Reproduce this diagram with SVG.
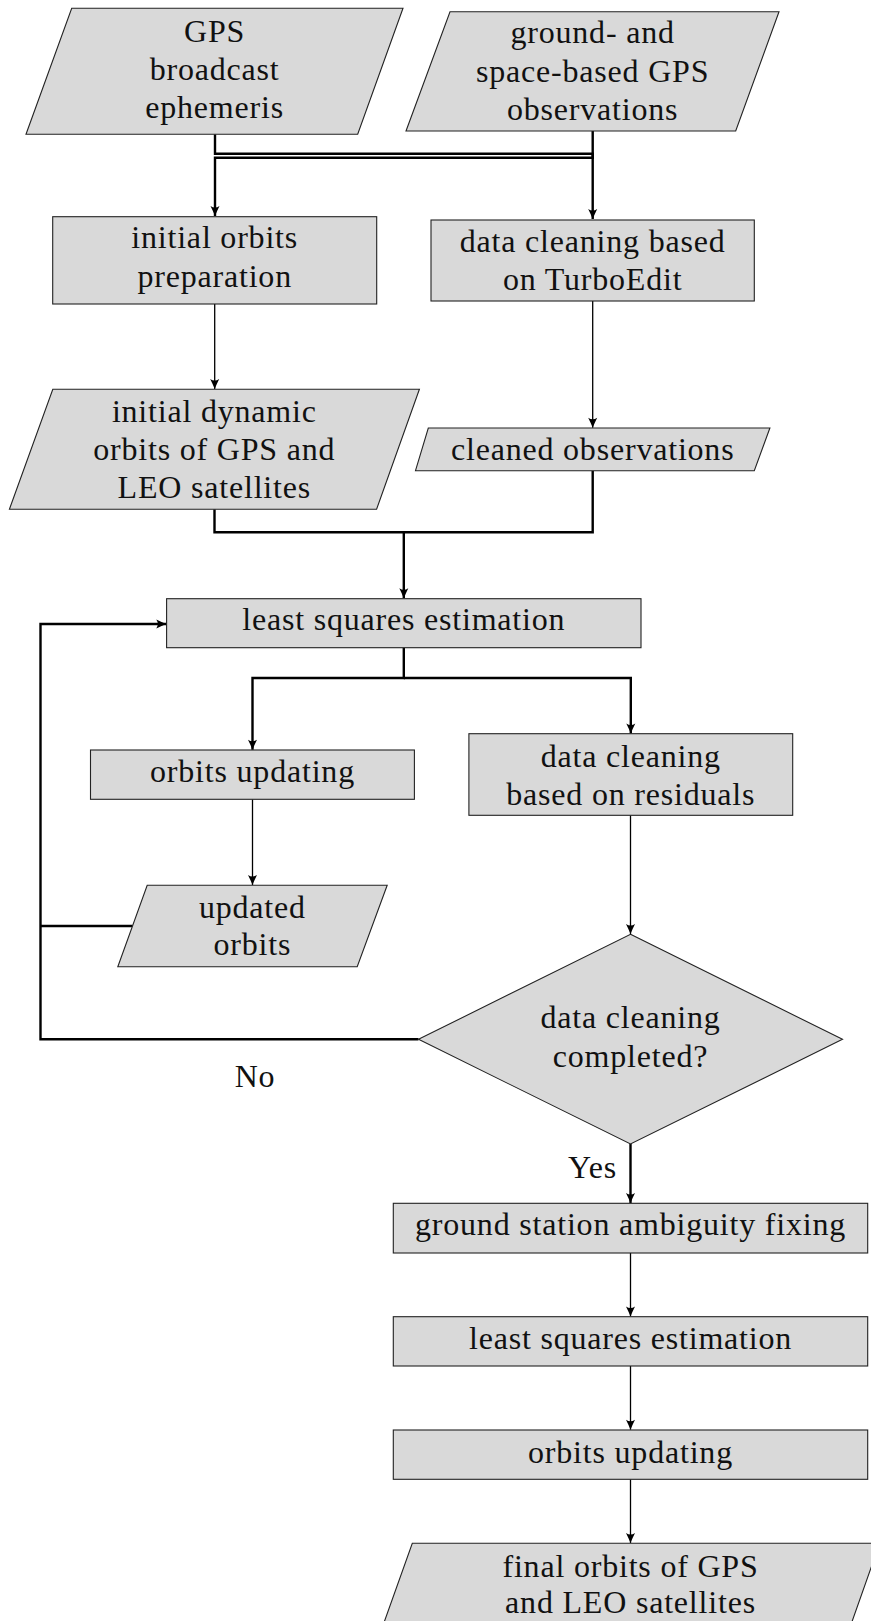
<svg xmlns="http://www.w3.org/2000/svg" width="871" height="1621" viewBox="0 0 871 1621">
<defs>
<marker id="arr" markerUnits="userSpaceOnUse" markerWidth="12" markerHeight="12" viewBox="0 0 12 12" refX="11" refY="6" orient="auto">
<path d="M1,1.5 Q6,4 11,6 Q6,8 1,10.5 Q4,6 1,1.5 Z" fill="#000"/>
</marker>
<style>
.n{fill:#d9d9d9;stroke:#222;stroke-width:1.1}
.t{font-family:"Liberation Serif","Times New Roman",serif;font-size:32px;letter-spacing:0.8px;fill:#111;text-anchor:middle}
.thick{fill:none;stroke:#000;stroke-width:2.4}
.thin{fill:none;stroke:#000;stroke-width:1.3}
</style>
</defs>
<rect width="871" height="1621" fill="#fff"/>
<g id="connectors">
<path class="thick" d="M215,134.3 V153.8 H592.7 V219" marker-end="url(#arr)"/>
<path class="thick" d="M592.7,131 V157.8 H215 V216" marker-end="url(#arr)"/>
<path class="thin" d="M214.7,304 V389" marker-end="url(#arr)"/>
<path class="thin" d="M592.7,301 V427.7" marker-end="url(#arr)"/>
<path class="thick" d="M214.5,509.3 V532.3 H403.8 V598.3" marker-end="url(#arr)"/>
<path class="thick" d="M592.7,470.7 V532.3 H403.8"/>
<path class="thick" d="M403.8,647.7 V678 H252.5 V749.7" marker-end="url(#arr)"/>
<path class="thick" d="M403.8,678 H630.8 V733.4" marker-end="url(#arr)"/>
<path class="thin" d="M252.5,799.3 V885" marker-end="url(#arr)"/>
<path class="thin" d="M630.5,815.3 V934" marker-end="url(#arr)"/>
<path class="thick" d="M418.5,1039.3 H40.5 V624 H166.3" marker-end="url(#arr)"/>
<path class="thick" d="M132.5,926 H40.5"/>
<path class="thick" d="M630.5,1144 V1203" marker-end="url(#arr)"/>
<path class="thin" d="M630.5,1253 V1316.4" marker-end="url(#arr)"/>
<path class="thin" d="M630.5,1366 V1429.7" marker-end="url(#arr)"/>
<path class="thin" d="M630.5,1479.3 V1543" marker-end="url(#arr)"/>
</g>
<g id="gps-ephemeris">
<polygon class="n" points="71.7,8.3 403,8.3 357.7,134.3 26,134.3"/>
<text class="t" x="214.6" y="41.5">GPS</text>
<text class="t" x="214.6" y="79.8">broadcast</text>
<text class="t" x="214.6" y="118">ephemeris</text>
</g>
<g id="gps-observations">
<polygon class="n" points="450,11.7 779,11.7 735.7,131 406,131"/>
<text class="t" x="592.6" y="43.3">ground- and</text>
<text class="t" x="592.6" y="81.7">space-based GPS</text>
<text class="t" x="592.6" y="120">observations</text>
</g>
<g id="initial-orbits">
<rect class="n" x="52.7" y="216.7" width="324" height="87.3"/>
<text class="t" x="214.7" y="248.3">initial orbits</text>
<text class="t" x="214.7" y="287">preparation</text>
</g>
<g id="turboedit">
<rect class="n" x="431" y="220" width="323.3" height="81"/>
<text class="t" x="592.7" y="251.7">data cleaning based</text>
<text class="t" x="592.7" y="290">on TurboEdit</text>
</g>
<g id="initial-dynamic">
<polygon class="n" points="52.8,389.3 419.4,389.3 376.6,509.3 9.4,509.3"/>
<text class="t" x="214.3" y="421.7">initial dynamic</text>
<text class="t" x="214.3" y="460">orbits of GPS and</text>
<text class="t" x="214.3" y="498.3">LEO satellites</text>
</g>
<g id="cleaned-observations">
<polygon class="n" points="428.3,428 769.9,428 754.3,470.7 415.5,470.7"/>
<text class="t" x="592.7" y="460">cleaned observations</text>
</g>
<g id="lsq1">
<rect class="n" x="166.6" y="598.7" width="474.4" height="49"/>
<text class="t" x="403.8" y="630">least squares estimation</text>
</g>
<g id="orbits-updating1">
<rect class="n" x="90.5" y="750" width="323.9" height="49.3"/>
<text class="t" x="252.5" y="781.7">orbits updating</text>
</g>
<g id="residuals">
<rect class="n" x="468.9" y="733.7" width="323.8" height="81.6"/>
<text class="t" x="630.8" y="766.7">data cleaning</text>
<text class="t" x="630.8" y="805">based on residuals</text>
</g>
<g id="updated-orbits">
<polygon class="n" points="147.2,885.3 387.2,885.3 357.2,966.7 117.8,966.7"/>
<text class="t" x="252.4" y="918">updated</text>
<text class="t" x="252.4" y="955">orbits</text>
</g>
<g id="decision">
<polygon class="n" points="630.5,934.3 842.5,1039.3 630.5,1144 418.5,1039.3"/>
<text class="t" x="630.5" y="1028.3">data cleaning</text>
<text class="t" x="630.5" y="1066.7">completed?</text>
</g>
<g id="labels">
<text class="t" x="255" y="1086.7">No</text>
<text class="t" x="592.5" y="1177.7">Yes</text>
</g>
<g id="ambiguity">
<rect class="n" x="393.3" y="1203.3" width="474.4" height="49.7"/>
<text class="t" x="630.5" y="1235">ground station ambiguity fixing</text>
</g>
<g id="lsq2">
<rect class="n" x="393.3" y="1316.7" width="474.4" height="49.3"/>
<text class="t" x="630.5" y="1349.3">least squares estimation</text>
</g>
<g id="orbits-updating2">
<rect class="n" x="393.3" y="1430" width="474.4" height="49.3"/>
<text class="t" x="630.5" y="1462.7">orbits updating</text>
</g>
<g id="final-orbits">
<polygon class="n" points="412.3,1543.3 879.7,1543.3 848.7,1631 381,1631"/>
<text class="t" x="630.5" y="1576.7">final orbits of GPS</text>
<text class="t" x="630.5" y="1613.3">and LEO satellites</text>
</g>
</svg>
